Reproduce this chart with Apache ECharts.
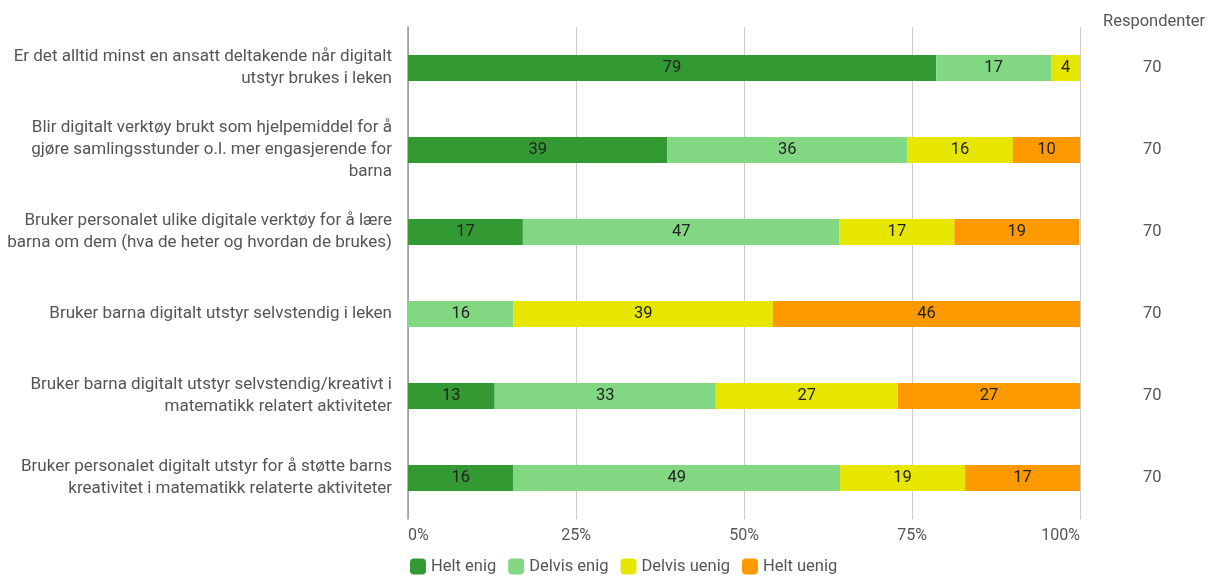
<!DOCTYPE html>
<html>
<head>
<meta charset="utf-8">
<script src="https://cdn.jsdelivr.net/npm/echarts@6/dist/echarts.min.js"></script>
<style>
  html, body { margin: 0; padding: 0; background: #fff; }
  #chart { width: 1212px; height: 576px; }
</style>
</head>
<body>
<div id="chart"></div>
<script>
// spørsmål (kategorier)
const categories = [
  'Er det alltid minst en ansatt deltakende når digitalt\nutstyr brukes i leken',
  'Blir digitalt verktøy brukt som hjelpemiddel for å\ngjøre samlingsstunder o.l. mer engasjerende for\nbarna',
  'Bruker personalet ulike digitale verktøy for å lære\nbarna om dem (hva de heter og hvordan de brukes)',
  'Bruker barna digitalt utstyr selvstendig i leken',
  'Bruker barna digitalt utstyr selvstendig/kreativt i\nmatematikk relatert aktiviteter',
  'Bruker personalet digitalt utstyr for å støtte barns\nkreativitet i matematikk relaterte aktiviteter'
];

// andeler i prosent
const heltEnig    = [78.6, 38.6, 17.1, 0,    12.9, 15.7];
const delvisEnig  = [17.1, 35.7, 47.1, 15.7, 32.9, 48.6];
const delvisUenig = [4.3,  15.7, 17.1, 38.6, 27.1, 18.6];
const heltUenig   = [0,    10.0, 18.6, 45.7, 27.1, 17.1];

const respondenter = [70, 70, 70, 70, 70, 70];
const xTicks = ['0%', '25%', '50%', '75%', '100%'];

const seriesNames = ['Helt enig', 'Delvis enig', 'Delvis uenig', 'Helt uenig'];
const seriesData = [heltEnig, delvisEnig, delvisUenig, heltUenig];
const colors = ['#339933', '#82d882', '#e6e600', '#ff9900'];

const font = 'Roboto';

const chart = echarts.init(document.getElementById('chart'));

chart.setOption({
  animation: false,
  textStyle: { fontFamily: font },
  title: {
    text: 'Respondenter',
    left: 1098,
    top: 8,
    textStyle: { fontFamily: font, fontSize: 16.5, fontWeight: 'normal', color: '#555' }
  },
  legend: {
    left: 405,
    top: 553,
    itemWidth: 16,
    itemHeight: 16,
    itemGap: 12,
    icon: 'roundRect',
    textStyle: { fontFamily: font, fontSize: 16.5, color: '#555' },
    data: seriesNames
  },
  grid: { left: 408, right: 132, top: 27, bottom: 57 },
  xAxis: {
    type: 'value',
    min: 0,
    max: 100,
    interval: 25,
    axisLine: { show: false },
    axisTick: { show: false },
    splitLine: { lineStyle: { color: '#cccccc', width: 1 } },
    axisLabel: {
      fontFamily: font,
      fontSize: 16,
      color: '#555',
      margin: 9,
      alignMinLabel: 'left',
      alignMaxLabel: 'right',
      formatter: (v) => xTicks[Math.round(v / 25)]
    }
  },
  yAxis: [
    {
      type: 'category',
      inverse: true,
      data: categories,
      axisLine: { show: true, lineStyle: { color: '#999', width: 1.5 } },
      axisTick: { show: false },
      axisLabel: {
        fontFamily: font,
        fontSize: 17,
        lineHeight: 22,
        color: '#555',
        margin: 16,
        align: 'right'
      }
    },
    {
      type: 'category',
      inverse: true,
      position: 'right',
      data: categories,
      axisLine: { show: false },
      axisTick: { show: false },
      axisLabel: {
        fontFamily: font,
        fontSize: 16.5,
        color: '#555',
        margin: 63,
        align: 'left',
        formatter: (v, i) => String(respondenter[i])
      }
    }
  ],
  series: seriesNames.map((name, k) => ({
    name: name,
    type: 'bar',
    stack: 'total',
    yAxisIndex: 0,
    barWidth: 26,
    itemStyle: { color: colors[k] },
    label: {
      show: true,
      position: 'inside',
      fontFamily: font,
      fontSize: 16.5,
      color: '#222',
      formatter: (p) => (p.value > 0 ? String(Math.round(p.value)) : '')
    },
    data: seriesData[k]
  }))
});
</script>
</body>
</html>
